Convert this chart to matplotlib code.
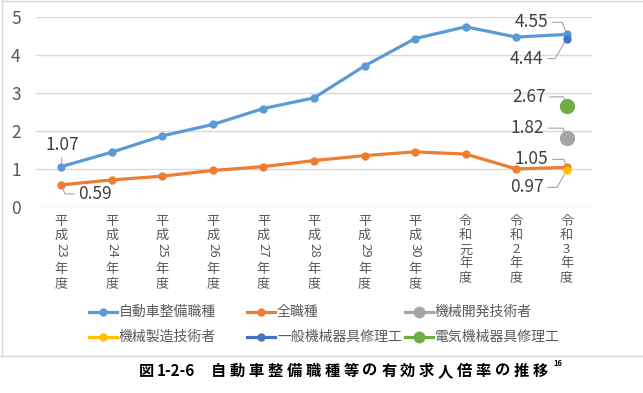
import re

import matplotlib
matplotlib.use("Agg")
import matplotlib.pyplot as plt
from matplotlib.lines import Line2D

plt.rcParams["font.family"] = ["Noto Sans CJK JP", "DejaVu Sans"]

# ============================================================
# データ
# ============================================================
YEARS = ["平成23年度", "平成24年度", "平成25年度", "平成26年度", "平成27年度",
         "平成28年度", "平成29年度", "平成30年度", "令和元年度", "令和2年度", "令和3年度"]
AUTO = [1.07, 1.45, 1.88, 2.18, 2.60, 2.88, 3.72, 4.44, 4.75, 4.48, 4.55]
ALL_JOBS = [0.59, 0.72, 0.82, 0.97, 1.07, 1.23, 1.36, 1.46, 1.40, 1.01, 1.05]
MACH_DEV = 1.82      # 機械開発技術者 (令和3年度)
MACH_MFG = 0.97      # 機械製造技術者
GEN_REPAIR = 4.44    # 一般機械器具修理工
ELEC_REPAIR = 2.67   # 電気機械器具修理工

SERIES_NAMES = ["自動車整備職種", "全職種", "機械開発技術者",
                "機械製造技術者", "一般機械器具修理工", "電気機械器具修理工"]
COLORS = ["#5B9BD5", "#ED7D31", "#A5A5A5", "#FFC000", "#4472C4", "#70AD47"]
CAPTION = "自動車整備職種等の有効求人倍率の推移"

TXT = "#595959"
LBL = "#404040"
GRID = "#D9D9D9"
W, H = 643, 393

fig = plt.figure(figsize=(W / 100, H / 100), dpi=100)
ax = fig.add_axes([36 / W, (H - 207.3) / H, (592 - 36) / W, (207.3 - 17.3) / H])

x = list(range(len(YEARS)))
last = x[-1]
ax.plot(x, AUTO, color=COLORS[0], lw=2.3, marker="o", ms=5, zorder=3)
ax.plot(x, ALL_JOBS, color=COLORS[1], lw=2.3, marker="o", ms=5, zorder=3)
ax.plot([last], [MACH_DEV], "o", color=COLORS[2], ms=10, zorder=4)
ax.plot([last], [MACH_MFG], "o", color=COLORS[3], ms=5, zorder=4)
ax.plot([last], [GEN_REPAIR], "o", color=COLORS[4], ms=5, zorder=4)
ax.plot([last], [ELEC_REPAIR], "o", color=COLORS[5], ms=10, zorder=4)

ax.set_xlim(-0.5, len(YEARS) - 0.5)
ax.set_ylim(0, 5)
ax.set_yticks(range(6))
ax.yaxis.grid(True, color=GRID, lw=1)
ax.set_axisbelow(True)
for s in ax.spines.values():
    s.set_visible(False)
ax.tick_params(axis="y", length=0, pad=11, labelsize=12.5, labelcolor=TXT)
ax.tick_params(axis="x", length=0, labelbottom=False)

# 縦書きの x 軸ラベル（2桁の数字は横倒し）
pt = 0.72
for i, lab in enumerate(YEARS):
    off = 8
    for seg in re.findall(r"\d{2}|.", lab):
        if len(seg) == 2:
            ax.annotate(seg, xy=(i, 0), xycoords=("data", "axes fraction"),
                        xytext=(0, -off * pt), textcoords="offset points",
                        rotation=-90, ha="center", va="top", fontsize=9.5, color=TXT)
            off += 20
        else:
            ax.annotate(seg, xy=(i, 0), xycoords=("data", "axes fraction"),
                        xytext=(0, -off * pt), textcoords="offset points",
                        ha="center", va="top", fontsize=9.5, color=TXT)
            off += 14

# データラベル
lead = dict(arrowstyle="-", color="#A6A6A6", lw=0.8, shrinkA=1, shrinkB=3)


def label(val, xi, dx, dy, rel, cs):
    ax.annotate(f"{val:.2f}", xy=(xi, val), xytext=(dx * pt, dy * pt),
                textcoords="offset points", ha="center", va="center",
                fontsize=12.5, color=LBL,
                arrowprops=dict(lead, relpos=rel, connectionstyle=cs))


label(AUTO[0], 0, 1, 22, (0.5, 0), "arc3")
label(ALL_JOBS[0], 0, 34, -9, (0, 0.5), "angle,angleA=0,angleB=112,rad=0")
label(AUTO[-1], last, -35, 12, (1, 0.5), "angle,angleA=0,angleB=110,rad=0")
label(GEN_REPAIR, last, -40, -20, (1, 0.5), "angle,angleA=0,angleB=60,rad=0")
label(ELEC_REPAIR, last, -38, 9, (1, 0.5), "angle,angleA=0,angleB=110,rad=0")
label(MACH_DEV, last, -39, 10, (1, 0.5), "angle,angleA=0,angleB=110,rad=0")
label(ALL_JOBS[-1], last, -35, 8, (1, 0.5), "angle,angleA=0,angleB=110,rad=0")
label(MACH_MFG, last, -40, -17, (1, 0.5), "angle,angleA=0,angleB=60,rad=0")

# 凡例（Excel 風の等幅カラム）
col_x = [89, 247, 405]
row_y = [312, 337]
big = {2, 5}
for k, (name, c) in enumerate(zip(SERIES_NAMES, COLORS)):
    cx, cy = col_x[k % 3], row_y[k // 3]
    fy = (H - cy) / H
    fig.add_artist(Line2D([cx / W, (cx + 28) / W], [fy, fy], color=c, lw=2.3))
    fig.add_artist(Line2D([(cx + 14) / W], [fy], marker="o", color=c,
                          ms=7.5 if k in big else 5))
    fig.text((cx + 30) / W, fy, name, fontsize=10, color=TXT, ha="left", va="center")

# 枠線
fig.add_artist(Line2D([2 / W, 2 / W], [1, (H - 356) / H], color=GRID, lw=1))
fig.add_artist(Line2D([2 / W, 1], [1 - 1 / H, 1 - 1 / H], color=GRID, lw=1))
fig.add_artist(Line2D([0, 1], [(H - 356) / H] * 2, color=GRID, lw=1))

# 図タイトル
cy = (H - 371) / H
fig.text(139 / W, cy, "図", fontsize=11, weight="bold", ha="left", va="center")
fig.text(157 / W, cy, "1-2-6", fontsize=11, weight="bold", ha="left", va="center")
for j, ch in enumerate(CAPTION):
    fig.text((211 + 18.9 * j) / W, cy, ch, fontsize=11, weight="bold",
             ha="left", va="center")
fig.text(553 / W, (H - 364) / H, "16", fontsize=5.5, weight="bold",
         ha="left", va="center")

fig.savefig("out.png", dpi=100)
